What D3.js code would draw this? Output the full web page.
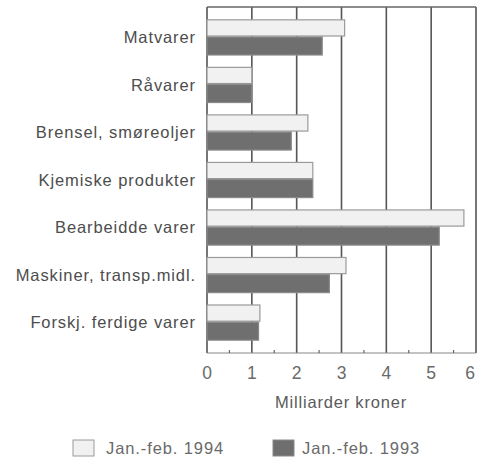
<!DOCTYPE html>
<html>
<head>
<meta charset="utf-8">
<script src="https://cdn.jsdelivr.net/npm/d3@7/dist/d3.min.js"></script>
<style>
  body { margin: 0; background: #fff; }
  text { font-family: "Liberation Sans", Arial, sans-serif; fill: #4d4d4d; }
</style>
</head>
<body>
<svg id="chart" width="478" height="458"></svg>
<script>
// categories and values, milliarder kroner
var categories = ["Matvarer", "Råvarer", "Brensel, smøreoljer", "Kjemiske produkter",
                  "Bearbeidde varer", "Maskiner, transp.midl.", "Forskj. ferdige varer"];
var values1994 = [3.07, 1.0, 2.25, 2.36, 5.73, 3.1, 1.18];
var values1993 = [2.57, 1.0, 1.88, 2.36, 5.18, 2.73, 1.15];
var xTicks = [0, 1, 2, 3, 4, 5, 6];
var seriesNames = ["Jan.-feb. 1994", "Jan.-feb. 1993"];

(function() {
  var svg = d3.select("#chart");
  var plotLeft = 207, plotRight = 476, plotTop = 7, plotBottom = 353;

  var x = d3.scaleLinear().domain([0, 6]).range([plotLeft, plotRight]);
  var y = d3.scaleBand().domain(categories).range([plotTop, plotBottom])
      .paddingInner(0.26).paddingOuter(0.27);

  // grid + frame
  var g = svg.append("g");
  g.selectAll("line.grid").data(xTicks).enter().append("line")
      .attr("x1", function(d) { return x(d); }).attr("x2", function(d) { return x(d); })
      .attr("y1", plotTop).attr("y2", plotBottom)
      .attr("stroke", "#555").attr("stroke-width", 1.6);
  g.append("line").attr("x1", plotLeft).attr("x2", plotRight).attr("y1", plotTop).attr("y2", plotTop)
      .attr("stroke", "#666").attr("stroke-width", 1.4);
  g.append("line").attr("x1", plotLeft).attr("x2", plotRight).attr("y1", plotBottom).attr("y2", plotBottom)
      .attr("stroke", "#888").attr("stroke-width", 1.2);
  // minor ticks at half units
  g.selectAll("line.minor").data(d3.range(0.5, 6, 1)).enter().append("line")
      .attr("x1", function(d) { return x(d); }).attr("x2", function(d) { return x(d); })
      .attr("y1", plotBottom - 3).attr("y2", plotBottom)
      .attr("stroke", "#666").attr("stroke-width", 1.2);

  // bars
  var lightH = 0.46;
  var bars = svg.append("g");
  bars.selectAll("rect.b94").data(values1994).enter().append("rect")
      .attr("x", x(0))
      .attr("y", function(d, i) { return y(categories[i]); })
      .attr("width", function(d) { return x(d) - x(0); })
      .attr("height", y.bandwidth() * lightH)
      .attr("fill", "#f1f1f1").attr("stroke", "#9a9a9a").attr("stroke-width", 1.2);
  bars.selectAll("rect.b93").data(values1993).enter().append("rect")
      .attr("x", x(0))
      .attr("y", function(d, i) { return y(categories[i]) + y.bandwidth() * lightH + 1; })
      .attr("width", function(d) { return x(d) - x(0); })
      .attr("height", y.bandwidth() * (1 - lightH) - 1)
      .attr("fill", "#6f6f6f").attr("stroke", "#8a8a8a").attr("stroke-width", 1.2);

  // category labels
  svg.append("g").selectAll("text").data(categories).enter().append("text")
      .attr("x", 196)
      .attr("y", function(d) { return y(d) + y.bandwidth() / 2; })
      .attr("dy", "0.35em")
      .attr("text-anchor", "end")
      .attr("font-size", 16.5)
      .attr("letter-spacing", 0.9)
      .text(function(d) { return d; });

  // x tick labels (last one pulled in so it fits)
  svg.append("g").selectAll("text").data(xTicks).enter().append("text")
      .attr("x", function(d) { return d === 6 ? x(d) - 6 : x(d); })
      .attr("y", 373).attr("dy", "0.35em")
      .attr("text-anchor", "middle")
      .attr("font-size", 17.5)
      .style("fill", "#6a6a6a")
      .text(function(d) { return d; });

  svg.append("text").attr("x", 341).attr("y", 402).attr("dy", "0.35em")
      .attr("text-anchor", "middle").attr("font-size", 16.5)
      .attr("letter-spacing", 0.8)
      .style("fill", "#5a5a5a")
      .text("Milliarder kroner");

  // legend
  var legend = [
    { name: seriesNames[0], fill: "#f1f1f1", stroke: "#9a9a9a", bx: 73, tx: 106 },
    { name: seriesNames[1], fill: "#6f6f6f", stroke: "#8a8a8a", bx: 273, tx: 302 }
  ];
  var lg = svg.append("g").selectAll("g").data(legend).enter().append("g");
  lg.append("rect").attr("x", function(d) { return d.bx; }).attr("y", 440)
      .attr("width", 21).attr("height", 16)
      .attr("fill", function(d) { return d.fill; }).attr("stroke", function(d) { return d.stroke; });
  lg.append("text").attr("x", function(d) { return d.tx; }).attr("y", 448).attr("dy", "0.35em")
      .attr("font-size", 16.5).attr("letter-spacing", 0.9).style("fill", "#6a6a6a")
      .text(function(d) { return d.name; });
})();
</script>
</body>
</html>
